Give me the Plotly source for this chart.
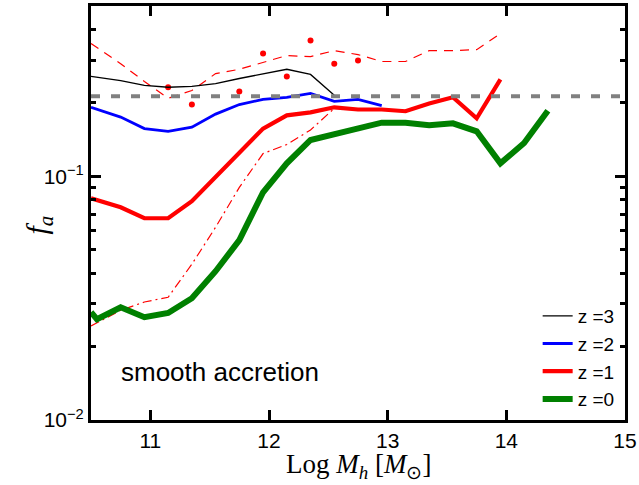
import plotly.graph_objects as go

# ---- data ----
log_mh = [10.5, 10.75, 10.95, 11.15, 11.35, 11.55, 11.75, 11.95, 12.15, 12.35,
          12.55, 12.75, 12.95, 13.15, 13.35, 13.55, 13.75, 13.95, 14.15, 14.35]

fa_z3 = [0.257, 0.247, 0.236, 0.232, 0.234, 0.240, 0.252, 0.264, 0.275, 0.262, 0.215]
fa_z2 = [0.192, 0.175, 0.157, 0.153, 0.159, 0.180, 0.197, 0.207, 0.211, 0.219,
         0.203, 0.207, 0.195]
fa_z1 = [0.0813, 0.0746, 0.0673, 0.0673, 0.0790, 0.0991, 0.125, 0.157, 0.178, 0.183,
         0.192, 0.188, 0.188, 0.185, 0.199, 0.211, 0.173, 0.250]
mh_z0 = [10.5, 10.55, 10.75, 10.95, 11.15, 11.35, 11.55, 11.75, 11.95, 12.15, 12.35,
         12.55, 12.75, 12.95, 13.15, 13.35, 13.55, 13.75, 13.95, 14.15, 14.35]
fa_z0 = [0.0277, 0.0259, 0.0290, 0.0264, 0.0275, 0.0316, 0.0408, 0.0547, 0.0860, 0.113,
         0.141, 0.149, 0.157, 0.166, 0.166, 0.162, 0.165, 0.153, 0.113, 0.137, 0.186]
fa_z1_upper = [0.351, 0.290, 0.245, 0.209, 0.225, 0.264, 0.275, 0.293, 0.313, 0.310,
               0.328, 0.316, 0.296, 0.296, 0.328, 0.328, 0.331, 0.385]
fa_z1_lower = [0.0243, 0.0282, 0.0305, 0.0319, 0.0436, 0.0618, 0.0901, 0.124, 0.135,
               0.155, 0.190]
mh_dots = [11.15, 11.35, 11.75, 11.95, 12.15, 12.35, 12.55, 12.75]
fa_dots = [0.232, 0.197, 0.223, 0.319, 0.257, 0.361, 0.290, 0.299]
fa_reference = 0.213

x_ticks = [11, 12, 13, 14, 15]
y_ticks = [0.01, 0.1]
y_ticktext = ["10<sup>\u22122</sup>", "10<sup>\u22121</sup>"]
y_minor = [0.02, 0.03, 0.04, 0.05, 0.06, 0.07, 0.08, 0.09, 0.2, 0.3, 0.4, 0.5]

fig = go.Figure()

# secondary red curves (not in legend)
fig.add_trace(go.Scatter(x=log_mh[:len(fa_z1_upper)], y=fa_z1_upper, mode="lines",
                         line=dict(color="#ff0000", width=1.2, dash="9px,7px"),
                         showlegend=False))
fig.add_trace(go.Scatter(x=log_mh[:len(fa_z1_lower)], y=fa_z1_lower, mode="lines",
                         line=dict(color="#ff0000", width=1.2, dash="9px,4px,2px,4px"),
                         showlegend=False))
fig.add_trace(go.Scatter(x=mh_dots, y=fa_dots, mode="markers",
                         marker=dict(color="#ff0000", size=6),
                         showlegend=False))

# main curves
fig.add_trace(go.Scatter(x=log_mh[:len(fa_z3)], y=fa_z3, mode="lines", name="z =3",
                         line=dict(color="#000000", width=1.3)))
fig.add_trace(go.Scatter(x=log_mh[:len(fa_z2)], y=fa_z2, mode="lines", name="z =2",
                         line=dict(color="#0000ff", width=2.8)))
fig.add_trace(go.Scatter(x=log_mh[:len(fa_z1)], y=fa_z1, mode="lines", name="z =1",
                         line=dict(color="#ff0000", width=4.2)))
fig.add_trace(go.Scatter(x=mh_z0, y=fa_z0, mode="lines", name="z =0",
                         line=dict(color="#008000", width=6)))

# horizontal reference line
fig.add_trace(go.Scatter(x=[10.5, 15], y=[fa_reference, fa_reference], mode="lines",
                         line=dict(color="#808080", width=4, dash="9px,11px"),
                         showlegend=False))

axis_common = dict(showline=True, linecolor="black", linewidth=3, mirror="allticks",
                   ticks="inside", tickcolor="black", tickwidth=2.5, ticklen=10,
                   showgrid=False, zeroline=False, automargin=False,
                   tickfont=dict(family="Liberation Sans, Arial, sans-serif", size=21,
                                 color="black"))

fig.update_xaxes(range=[10.5, 15], tickvals=x_ticks, ticktext=[str(v) for v in x_ticks],
                 **axis_common)
fig.update_yaxes(type="log", range=[-2, -0.30103], tickvals=y_ticks, ticktext=y_ticktext,
                 minor=dict(tickvals=y_minor, ticks="inside", ticklen=5, tickwidth=2.5,
                            tickcolor="black", showgrid=False),
                 **axis_common)

fig.add_annotation(text="smooth accretion", xref="paper", yref="paper",
                   x=0.052, y=0.116, xanchor="left", yanchor="middle", showarrow=False,
                   font=dict(family="Liberation Sans, Arial, sans-serif", size=26,
                             color="black"))
fig.add_annotation(text="Log <i>M</i><sub><i>h</i></sub> [<i>M</i><sub>\u2299</sub>]",
                   xref="paper", yref="paper", x=0.5, y=-0.11, xanchor="center",
                   yanchor="middle", showarrow=False,
                   font=dict(family="Liberation Serif, Times New Roman, serif", size=27,
                             color="black"))
fig.add_annotation(text="<i>f</i><sub><i>a</i></sub>", xref="paper", yref="paper",
                   x=-0.097, y=0.47, xanchor="center", yanchor="middle", showarrow=False,
                   textangle=-90,
                   font=dict(family="Liberation Serif, Times New Roman, serif", size=30,
                             color="black"))

fig.update_layout(
    width=639, height=485,
    margin=dict(l=91, r=14, t=6, b=65, autoexpand=False),
    plot_bgcolor="white", paper_bgcolor="white",
    legend=dict(x=0.99, y=0.005, xanchor="right", yanchor="bottom",
                bgcolor="rgba(0,0,0,0)", borderwidth=0, tracegroupgap=0,
                font=dict(family="Liberation Sans, Arial, sans-serif", size=19,
                          color="black")),
)

fig.write_html("out.html", config={"displayModeBar": False},
               post_script="document.body.style.margin='0px';document.body.style.padding='0px';")
